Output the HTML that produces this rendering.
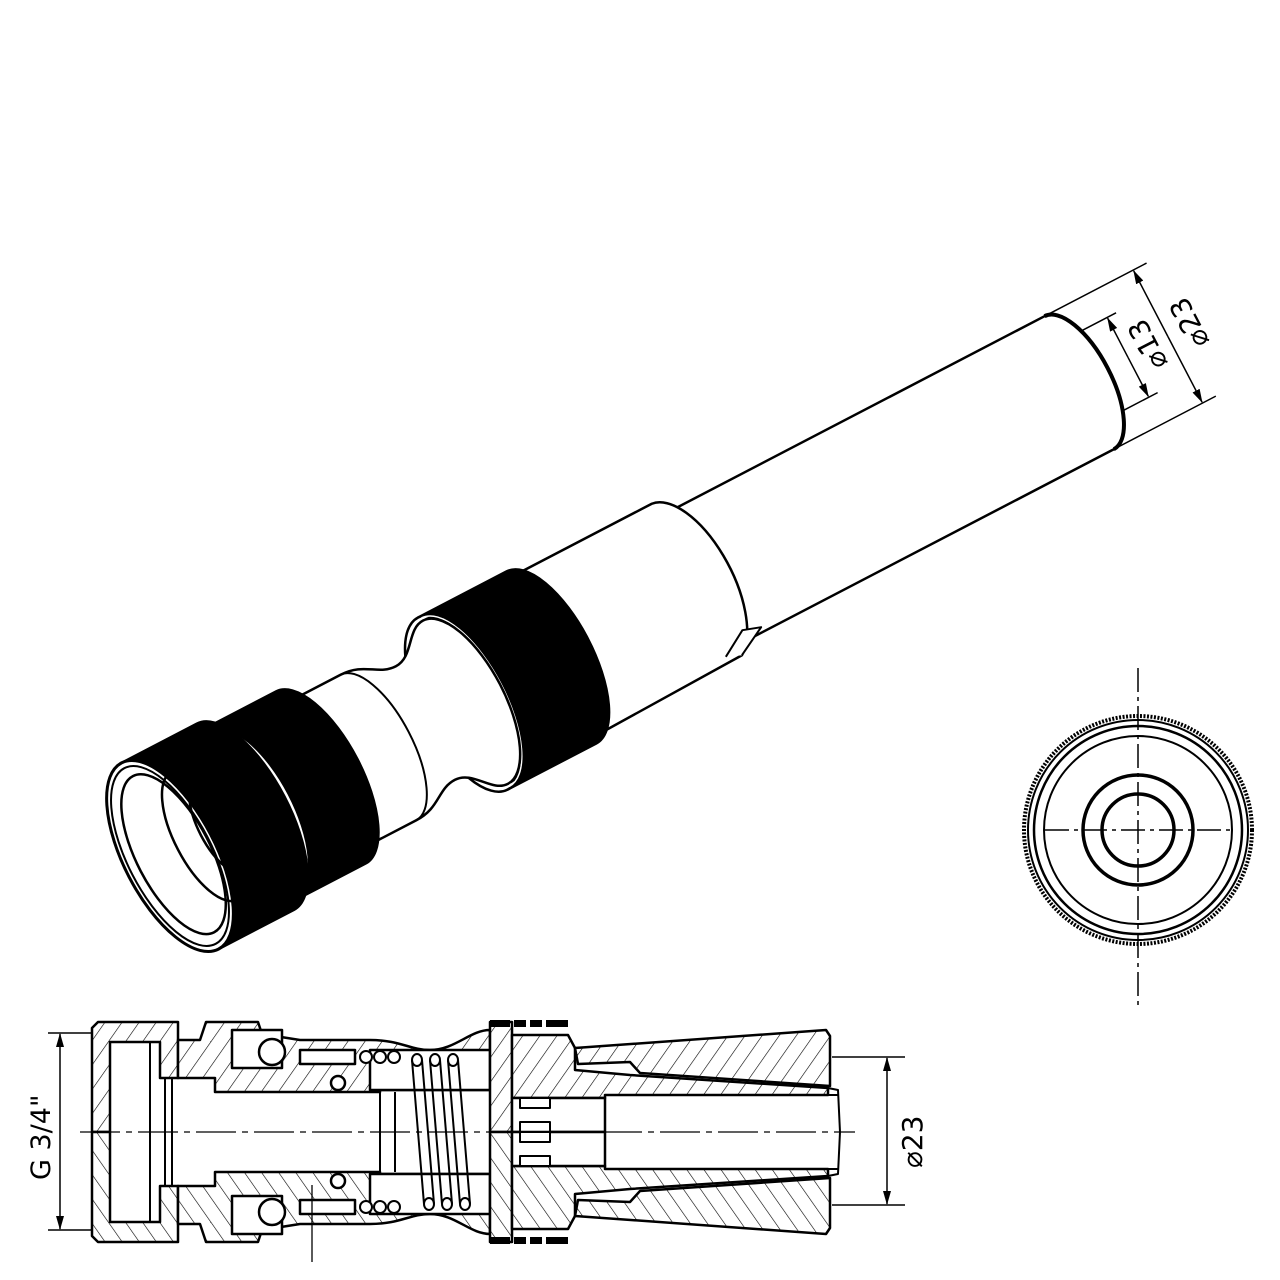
<!DOCTYPE html>
<html><head><meta charset="utf-8"><style>
html,body{margin:0;padding:0;background:#fff}
svg{display:block}
text{font-family:"DejaVu Sans","Liberation Sans",sans-serif;fill:#000}
</style></head><body>
<svg width="1280" height="1280" viewBox="0 0 1280 1280" xmlns="http://www.w3.org/2000/svg">
<defs>
<pattern id="h" width="14" height="14" patternUnits="userSpaceOnUse" patternTransform="rotate(35)">
<rect width="14" height="14" fill="#fff"/><line x1="0" y1="0" x2="0" y2="14" stroke="#000" stroke-width="1.2"/>
</pattern>
<marker id="ar" markerWidth="14" markerHeight="8" refX="13" refY="4" orient="auto" markerUnits="userSpaceOnUse">
<path d="M0,0 L14,4 L0,8 Z" fill="#000"/></marker>
</defs>

<g transform="translate(170,856) rotate(-27.5)" stroke="#000" stroke-width="2.5" stroke-linejoin="round">
  <g stroke-width="1.5" fill="none">
    <line x1="1025" y1="-75" x2="1140" y2="-75"/>
    <line x1="1025" y1="75" x2="1140" y2="75"/>
    <line x1="1038" y1="-45" x2="1090" y2="-45"/>
    <line x1="1052" y1="45" x2="1090" y2="45"/>
    <line x1="1125" y1="0" x2="1125" y2="-74" marker-end="url(#ar)"/>
    <line x1="1125" y1="0" x2="1125" y2="74" marker-end="url(#ar)"/>
    <line x1="1080" y1="0" x2="1080" y2="-44" marker-end="url(#ar)"/>
    <line x1="1080" y1="0" x2="1080" y2="44" marker-end="url(#ar)"/>
  </g>
  <text transform="translate(1160,24) rotate(-90)" font-size="28" stroke="none">⌀23</text>
  <text transform="translate(1113,24) rotate(-90)" font-size="28" stroke="none">⌀13</text>

  <path d="M580,-75 L1025,-75 A32,75 0 0 1 1025,75 L580,75 Z" fill="#fff"/>
  <path d="M1025,-75 A32,75 0 0 1 1025,75" fill="none" stroke-width="4"/>
  <path d="M430,-90 L590,-90 A42,90 0 0 1 600,86 L430,90 Z" fill="#fff"/>
  <path d="M585,80 L612,64 L630,70 L600,86" fill="#fff" stroke-width="2"/>
  <path d="M330,-97 L430,-97 A41,97 0 0 1 430,97 L330,97 Z" fill="#000"/>
  <ellipse cx="330" cy="0" rx="41" ry="97" fill="#fff"/>
  <path d="M336,-93 A39,93 0 0 1 336,93 Z" fill="#000" stroke="none"/>
  <path d="M333,-95 A40,95 0 0 1 333,95" fill="none" stroke="#fff" stroke-width="1.5"/>
  <path d="M170,-82 L235,-82 C262,-82 268,-64 288,-64 C308,-64 315,-92 333,-92 A39,92 0 0 1 333,92 C315,92 308,64 288,64 C268,64 262,82 235,82 L170,82 Z" fill="#fff"/>
  <path d="M235,-82 A34,82 0 0 1 235,82" fill="none" stroke-width="2"/>
  <path d="M95,-97 L170,-97 A41,97 0 0 1 170,97 L95,97 Z" fill="#000"/>
  <ellipse cx="95" cy="0" rx="39" ry="92" fill="#fff"/>
  <path d="M103,-92 A38,90 0 0 1 103,92 Z" fill="#000" stroke="none"/>
  <path d="M80,-92 L95,-92 A39,92 0 0 1 95,92 L80,92 Z" fill="#fff"/>
  <path d="M0,-105 L85,-105 A44,105 0 0 1 85,105 L0,105 Z" fill="#000"/>
  <ellipse cx="0" cy="0" rx="46" ry="105" fill="#fff" stroke-width="3"/>
  <ellipse cx="0" cy="0" rx="42" ry="99" fill="none" stroke-width="2"/>
  <ellipse cx="4" cy="0" rx="37" ry="88" fill="none" stroke-width="2.5"/>
  <ellipse cx="40" cy="-2" rx="30" ry="72" fill="none" stroke-width="2.5"/>
  <ellipse cx="62" cy="-4" rx="25" ry="56" fill="none" stroke-width="2.5"/>
  <ellipse cx="70" cy="-4" rx="23" ry="52" fill="none" stroke-width="2.5"/>
</g>

<g stroke="#000" fill="none">
  <circle cx="1138" cy="830" r="114" stroke-width="4" stroke-dasharray="2 1.5"/>
  <circle cx="1138" cy="830" r="110" stroke-width="2"/>
  <circle cx="1138" cy="830" r="104" stroke-width="2.5"/>
  <circle cx="1138" cy="830" r="94" stroke-width="2"/>
  <circle cx="1138" cy="830" r="55" stroke-width="3.5"/>
  <circle cx="1138" cy="830" r="36" stroke-width="3.5"/>
  <line x1="1138" y1="668" x2="1138" y2="1005" stroke-width="1.5" stroke-dasharray="24 5 4 5"/>
  <line x1="1045" y1="830" x2="1230" y2="830" stroke-width="1.5" stroke-dasharray="24 5 4 5"/>
</g>

<g id="top" stroke="#000" stroke-width="2.5" stroke-linejoin="round">
  <path d="M92,1028 L98,1022 L178,1022 L178,1078 L160,1078 L160,1042 L110,1042 L110,1132 L92,1132 Z" fill="url(#h)"/>
  <line x1="150" y1="1042" x2="150" y2="1132" stroke-width="2"/>
  <line x1="165" y1="1078" x2="165" y2="1132" stroke-width="2"/>
  <path d="M178,1040 L200,1040 L206,1022 L258,1022 L262,1034 L300,1040 L370,1040 C400,1040 410,1050 430,1050 C455,1050 470,1030 490,1030 L490,1090 L380,1090 L380,1092 L215,1092 L215,1078 L178,1078 Z" fill="url(#h)"/>
  <rect x="232" y="1030" width="50" height="38" fill="#fff"/>
  <circle cx="272" cy="1052" r="13" fill="#fff"/>
  <rect x="300" y="1050" width="55" height="14" fill="#fff"/>
  <rect x="370" y="1050" width="120" height="40" fill="#fff"/>
  <circle cx="338" cy="1083" r="7" fill="#fff"/>
  <circle cx="366" cy="1057" r="6" fill="#fff" stroke-width="2"/>
  <circle cx="380" cy="1057" r="6" fill="#fff" stroke-width="2"/>
  <circle cx="394" cy="1057" r="6" fill="#fff" stroke-width="2"/>
  <line x1="380" y1="1092" x2="380" y2="1132" stroke-width="2"/>
  <line x1="395" y1="1092" x2="395" y2="1132" stroke-width="2"/>
  <line x1="172" y1="1078" x2="172" y2="1132" stroke-width="2"/>
  <rect x="490" y="1022" width="22" height="110" fill="url(#h)"/>
  <g fill="#000" stroke="none"><rect x="490" y="1020" width="20" height="7"/><rect x="514" y="1020" width="12" height="7"/><rect x="530" y="1020" width="12" height="7"/><rect x="546" y="1020" width="22" height="7"/></g>
  <path d="M512,1035 L568,1035 L575,1048 L575,1070 L630,1075 L828,1088 L828,1095 L605,1095 L605,1098 L512,1098 Z" fill="url(#h)"/>
  <rect x="512" y="1098" width="93" height="34" fill="#fff"/>
  <rect x="520" y="1098" width="30" height="10" fill="#fff" stroke-width="2"/>
  <rect x="520" y="1122" width="30" height="10" fill="#fff" stroke-width="2"/>
  <path d="M575,1048 L826,1030 L830,1036 L830,1086 L640,1073 L630,1062 L578,1064 Z" fill="url(#h)"/>
  <path d="M828,1088 L838,1090 L840,1132" fill="none" stroke-width="2"/>
  <line x1="605" y1="1095" x2="838" y2="1095" stroke-width="2"/>
</g>
<use href="#top" transform="translate(0,2264) scale(1,-1)"/>

<g stroke="#000" stroke-width="2" fill="none">
  <path d="M412,1060 L424,1204 M422,1060 L434,1204"/>
  <path d="M430,1060 L442,1204 M440,1060 L452,1204"/>
  <path d="M448,1060 L460,1204 M458,1060 L470,1204"/>
  <ellipse cx="417" cy="1060" rx="5" ry="6"/><ellipse cx="435" cy="1060" rx="5" ry="6"/><ellipse cx="453" cy="1060" rx="5" ry="6"/>
  <ellipse cx="429" cy="1204" rx="5" ry="6"/><ellipse cx="447" cy="1204" rx="5" ry="6"/><ellipse cx="465" cy="1204" rx="5" ry="6"/>
</g>

<g stroke="#000" fill="none">
  <line x1="80" y1="1132" x2="855" y2="1132" stroke-width="1.3" stroke-dasharray="40 6 6 6"/>
  <line x1="312" y1="1185" x2="312" y2="1262" stroke-width="1.3"/>
  <line x1="48" y1="1033" x2="92" y2="1033" stroke-width="1.5"/>
  <line x1="48" y1="1230" x2="92" y2="1230" stroke-width="1.5"/>
  <line x1="60" y1="1132" x2="60" y2="1034" stroke-width="1.5" marker-end="url(#ar)"/>
  <line x1="60" y1="1132" x2="60" y2="1229" stroke-width="1.5" marker-end="url(#ar)"/>
  <line x1="832" y1="1057" x2="905" y2="1057" stroke-width="1.5"/>
  <line x1="832" y1="1205" x2="905" y2="1205" stroke-width="1.5"/>
  <line x1="887" y1="1132" x2="887" y2="1058" stroke-width="1.5" marker-end="url(#ar)"/>
  <line x1="887" y1="1132" x2="887" y2="1204" stroke-width="1.5" marker-end="url(#ar)"/>
</g>
<text transform="translate(50,1180) rotate(-90)" font-size="27">G 3/4"</text>
<text transform="translate(922,1168) rotate(-90)" font-size="28">⌀23</text>
</svg>
</body></html>
